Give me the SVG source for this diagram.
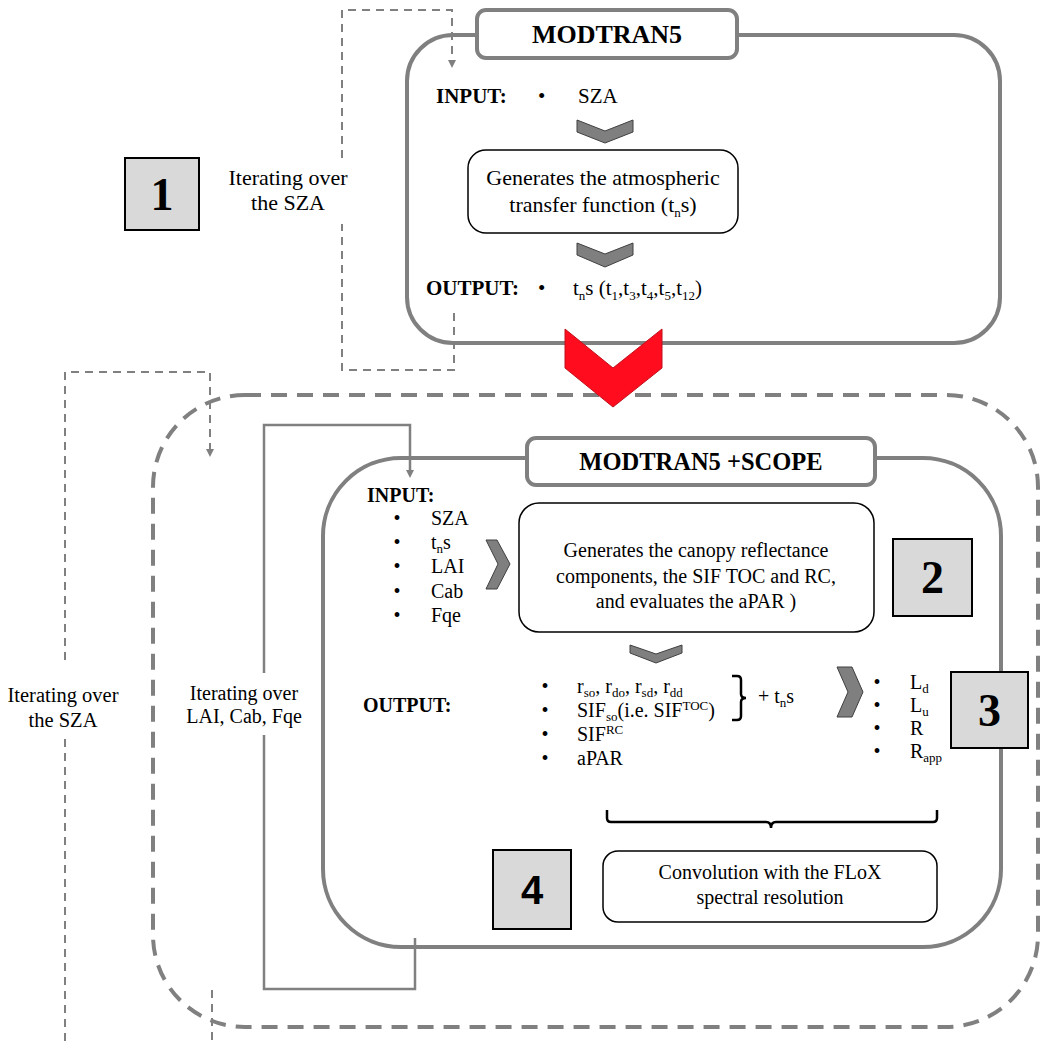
<svg xmlns="http://www.w3.org/2000/svg" width="1045" height="1041" viewBox="0 0 1045 1041">
<defs>
<marker id="ah" markerUnits="userSpaceOnUse" markerWidth="10" markerHeight="10" refX="0" refY="4" orient="auto" overflow="visible"><path d="M0,0 L8,4 L0,8 z" fill="#808080"/></marker>
<style>
text{font-family:"Liberation Serif","Times New Roman",serif;fill:#000}
.b{font-weight:bold}
.f20{font-size:20px}
.f21{font-size:21px}
.f22{font-size:22px}
.s{font-size:13px}
.mid{text-anchor:middle}
.chev{fill:#7f7f7f;stroke:#404040;stroke-width:1}
.cont{fill:none;stroke:#808080;stroke-width:4}
.title{fill:#fff;stroke:#808080;stroke-width:4}
.proc{fill:#fff;stroke:#000;stroke-width:1.5}
.num{fill:#d9d9d9;stroke:#000;stroke-width:2}
.numt{font-size:46px;font-weight:bold;text-anchor:middle}
.dl{fill:none;stroke:#808080;stroke-width:2;stroke-dasharray:8 6}
.sl{fill:none;stroke:#808080;stroke-width:2.5}
.br{fill:none;stroke:#000;stroke-width:2.5}
</style>
</defs>
<rect width="1045" height="1041" fill="#fff"/>

<g id="outer-loop-container">
<rect class="cont" x="153" y="395" width="885" height="632" rx="92" stroke-dasharray="16 10"/>
</g>

<g id="connectors">
<path class="dl" d="M454,313 V370 H342 V224 M342,158 V10 H452 V60" marker-end="url(#ah)"/>
<path class="dl" d="M65,1041 V737 M65,660 V372 H210 V449" marker-end="url(#ah)"/>
<path class="dl" d="M212,990 V1041"/>
<path class="sl" d="M415,938 V989 H264 V735 M264,673 V425 H410 V470" marker-end="url(#ah)"/>
</g>

<g id="label-iter-top">
<text class="f22 mid" x="288" y="185">Iterating over</text>
<text class="f22 mid" x="288" y="210">the SZA</text>
</g>
<g id="label-iter-left">
<text class="mid" font-size="20.5" x="63" y="702">Iterating over</text>
<text class="mid" font-size="20.5" x="63" y="727">the SZA</text>
</g>
<g id="label-iter-inner">
<text class="f20 mid" x="244" y="700">Iterating over</text>
<text class="f20 mid" x="244" y="723">LAI, Cab, Fqe</text>
</g>

<g id="box1">
<rect class="num" x="125" y="158" width="74" height="72"/>
<text class="numt" x="162" y="210">1</text>
</g>

<g id="modtran5">
<rect class="cont" x="407" y="35" width="593" height="308" rx="46"/>
<rect class="title" x="477" y="10" width="260" height="48" rx="9"/>
<text class="b mid" font-size="26" x="607" y="43">MODTRAN5</text>
<text class="b f21" x="436" y="103">INPUT:</text>
<text class="f21" x="538" y="103">•</text>
<text class="f21" x="578" y="103">SZA</text>
<polygon class="chev" points="577,120 605,131 633,120 633,132 605,143 577,132"/>
<rect class="proc" x="468" y="150" width="270" height="83" rx="18"/>
<text class="f22 mid" x="603" y="185">Generates the atmospheric</text>
<text class="f22 mid" x="603" y="212">transfer function (t<tspan class="s" dy="5">n</tspan><tspan dy="-5">s)</tspan></text>
<polygon class="chev" points="577,243 605,254 633,243 633,255 605,267 577,255"/>
<text class="b f21" x="426" y="295">OUTPUT:</text>
<text class="f21" x="538" y="295">•</text>
<text class="f21" x="573" y="295">t<tspan class="s" dy="5">n</tspan><tspan dy="-5">s (t</tspan><tspan class="s" dy="5">1</tspan><tspan dy="-5">,t</tspan><tspan class="s" dy="5">3</tspan><tspan dy="-5">,t</tspan><tspan class="s" dy="5">4</tspan><tspan dy="-5">,t</tspan><tspan class="s" dy="5">5</tspan><tspan dy="-5">,t</tspan><tspan class="s" dy="5">12</tspan><tspan dy="-5">)</tspan></text>
</g>

<g id="modtran5-scope">
<rect class="cont" x="323" y="458" width="678" height="489" rx="78"/>
<rect class="title" x="527" y="438" width="348" height="47" rx="9"/>
<text class="b mid" font-size="24.5" x="701" y="470">MODTRAN5 +SCOPE</text>
<text class="b f20" x="367" y="502">INPUT:</text>
<text class="f20" x="393.5" y="525">•</text><text class="f20" x="431" y="525">SZA</text>
<text class="f20" x="393.5" y="549">•</text><text class="f20" x="431" y="549">t<tspan class="s" dy="4">n</tspan><tspan dy="-4">s</tspan></text>
<text class="f20" x="393.5" y="573">•</text><text class="f20" x="431" y="573">LAI</text>
<text class="f20" x="393.5" y="598">•</text><text class="f20" x="431" y="598">Cab</text>
<text class="f20" x="393.5" y="622">•</text><text class="f20" x="431" y="622">Fqe</text>
<polygon class="chev" points="486,540 497,540 510,564 497,589 486,589 498,564"/>
<text class="b f20" x="363" y="712">OUTPUT:</text>
<polygon class="chev" points="630,645 656,654 682,645 682,653 656,663 630,653"/>
<text class="f20" x="541.5" y="693">•</text>
<text class="f20" x="577" y="693">r<tspan class="s" dy="4">so</tspan><tspan dy="-4">, r</tspan><tspan class="s" dy="4">do</tspan><tspan dy="-4">, r</tspan><tspan class="s" dy="4">sd</tspan><tspan dy="-4">, r</tspan><tspan class="s" dy="4">dd</tspan></text>
<text class="f20" x="541.5" y="717">•</text>
<text class="f20" x="577" y="717">SIF<tspan class="s" dy="4">so</tspan><tspan dy="-4">(i.e. SIF</tspan><tspan class="s" dy="-7">TOC</tspan><tspan dy="7">)</tspan></text>
<text class="f20" x="541.5" y="741">•</text>
<text class="f20" x="577" y="741">SIF<tspan class="s" dy="-7">RC</tspan></text>
<text class="f20" x="541.5" y="765">•</text>
<text class="f20" x="577" y="765">aPAR</text>
<path class="br" d="M732,676 H737 Q741,676 741,680 V694 Q741,698 746,698 Q741,698 741,702 V716 Q741,720 737,720 H732"/>
<text class="f20" x="758" y="703">+ t<tspan class="s" dy="4">n</tspan><tspan dy="-4">s</tspan></text>
<polygon class="chev" points="837,667 852,667 863,692 852,717 837,717 848,692"/>
<text class="f20" x="873.5" y="689">•</text><text class="f20" x="910" y="689">L<tspan class="s" dy="4">d</tspan></text>
<text class="f20" x="873.5" y="712">•</text><text class="f20" x="910" y="712">L<tspan class="s" dy="4">u</tspan></text>
<text class="f20" x="873.5" y="735">•</text><text class="f20" x="910" y="735">R</text>
<text class="f20" x="873.5" y="758">•</text><text class="f20" x="910" y="758">R<tspan class="s" dy="4">app</tspan></text>
<path class="br" d="M607,810 V818 Q607,822 611,822 H766 Q771,822 771,828 Q771,822 776,822 H933 Q937,822 937,818 V810"/>
</g>

<g id="canopy-process">
<rect class="proc" x="519" y="503" width="355" height="129" rx="20"/>
<text class="f20 mid" x="696" y="557">Generates the canopy reflectance</text>
<text class="f20 mid" x="696" y="583">components,  the SIF TOC and RC,</text>
<text class="f20 mid" x="696" y="608">and evaluates the aPAR )</text>
</g>

<g id="convolution">
<rect class="proc" x="603" y="851" width="334" height="71" rx="15"/>
<text class="f20 mid" x="770" y="879">Convolution with the FLoX</text>
<text class="f20 mid" x="770" y="904">spectral resolution</text>
</g>

<g id="box2">
<rect class="num" x="893" y="539" width="79" height="77"/>
<text class="numt" x="932.5" y="593">2</text>
</g>
<g id="box3">
<rect class="num" x="951" y="672" width="77" height="76"/>
<text class="numt" x="989.5" y="726">3</text>
</g>
<g id="box4">
<rect class="num" x="493" y="850" width="78" height="79"/>
<text x="532" y="904" font-family="Liberation Sans, Arial, sans-serif" font-size="40" font-weight="bold" text-anchor="middle" style="font-family:'Liberation Sans',Arial,sans-serif">4</text>
</g>

<g id="red-arrow">
<polygon points="565,329 613,368 662,329 662,368 613,407 565,368" fill="#ff0d1f" stroke="#c0101a" stroke-width="1"/>
</g>
</svg>
